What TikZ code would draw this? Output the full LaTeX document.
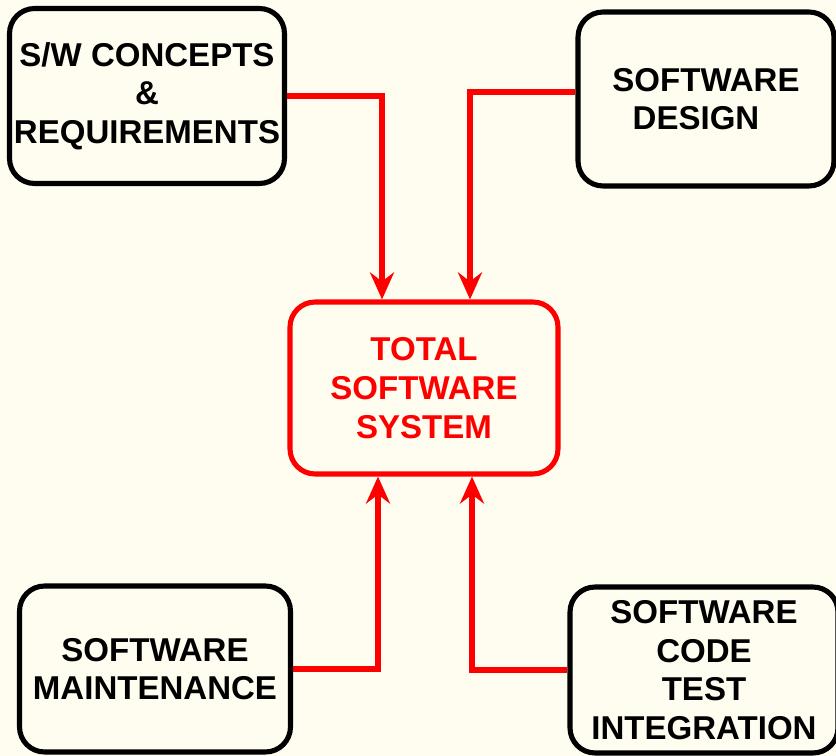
\documentclass[tikz,border=0pt]{standalone}
\usepackage{fontspec}
\setmainfont{Liberation Sans}
\usetikzlibrary{arrows.meta}
\definecolor{paper}{RGB}{255,252,240}

\begin{document}
\begin{tikzpicture}[x=0.02cm,y=-0.02cm,
  phase/.style={draw=black, line width=2.9pt, rounded corners=0.5cm, inner sep=0pt,
    align=center, font=\fontsize{18.8}{22}\selectfont\bfseries},
  feed/.style={draw=red, line width=3pt,
    -{Stealth[length=0.54cm,width=0.48cm,inset=0.18cm]}}]
\fill[paper] (0,0) rectangle (836,756);
\useasboundingbox (0,0) rectangle (836,756);

\node[phase, text=red, draw=red, minimum width=5.36cm, minimum height=3.44cm] (total) at (424,388)
{TOTAL\\SOFTWARE\\SYSTEM};
\node[phase, minimum width=5.5cm, minimum height=3.5cm] (concepts) at (147,96)
{S/W CONCEPTS\\\&\\REQUIREMENTS};
\node[phase, minimum width=5.12cm, minimum height=3.48cm] (design) at (706,99)
{SOFTWARE\\DESIGN\hspace*{0.4cm}};
\node[phase, minimum width=5.42cm, minimum height=3.32cm] (maint) at (155,669)
{SOFTWARE\\MAINTENANCE};
\node[phase, minimum width=5.36cm, minimum height=3.32cm] (code) at (704,670)
{SOFTWARE\\CODE\\TEST\\INTEGRATION};

\draw[feed] (concepts.east) -| ([xshift=-0.84cm]total.north);
\draw[feed] ([yshift=0.14cm]design.west) -| ([xshift=0.92cm]total.north);
\draw[feed] (maint.east) -| ([xshift=-0.92cm]total.south);
\draw[feed] (code.west) -| ([xshift=0.96cm]total.south);
\end{tikzpicture}
\end{document}
